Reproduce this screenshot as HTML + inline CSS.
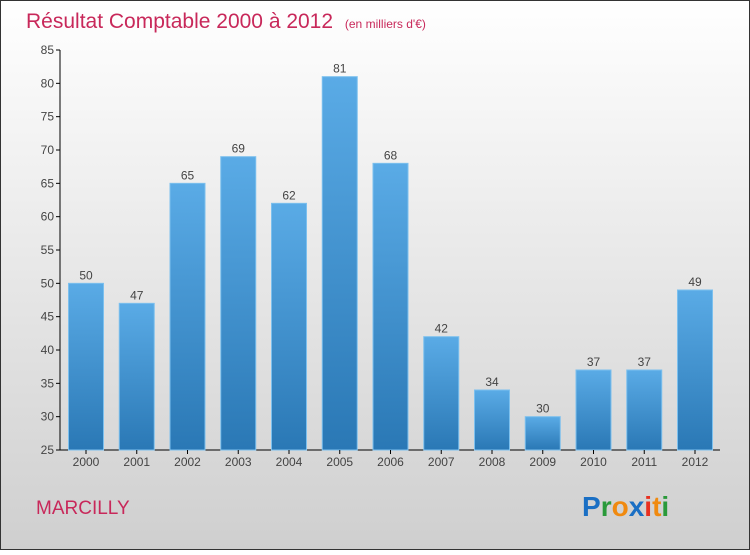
<!DOCTYPE html>
<html><head><meta charset="utf-8"><style>
body{margin:0;width:750px;height:550px;overflow:hidden;font-family:"Liberation Sans",sans-serif}
</style></head><body>
<svg id="c" width="750" height="550" xmlns="http://www.w3.org/2000/svg">
<defs>
<linearGradient id="bg" x1="0" y1="0" x2="0" y2="1"><stop offset="0" stop-color="#ffffff"/><stop offset="1" stop-color="#cfcfcf"/></linearGradient>
<linearGradient id="bar" x1="0" y1="0" x2="0" y2="1"><stop offset="0" stop-color="#5aabe6"/><stop offset="1" stop-color="#2a78b5"/></linearGradient>
</defs>
<rect x="0.5" y="0.5" width="749" height="549" fill="url(#bg)" stroke="#333"/>
<text x="26" y="28" font-size="21" fill="#c8285a">Résultat Comptable 2000 à 2012 <tspan font-size="12" dx="6">(en milliers d'€)</tspan></text>
<text x="36" y="514" font-size="19" fill="#c8285a">MARCILLY</text>
<g font-size="28" font-weight="bold" font-family="Liberation Sans,sans-serif">
<text x="582" y="516"><tspan fill="#1a6fc4">P</tspan><tspan fill="#2a9a3a">r</tspan><tspan fill="#f08a10">o</tspan><tspan fill="#1a6fc4">x</tspan><tspan fill="#e83020">i</tspan><tspan fill="#f08a10">t</tspan><tspan fill="#2a9a3a">i</tspan></text>
</g>
<g id="g"></g>
</svg>
<script>
const categories=["2000","2001","2002","2003","2004","2005","2006","2007","2008","2009","2010","2011","2012"];
const values=[50,47,65,69,62,81,68,42,34,30,37,37,49];
const yTicks=[25,30,35,40,45,50,55,60,65,70,75,80,85];
const NS="http://www.w3.org/2000/svg";
const g=document.getElementById('g');
const y=v=>450-(v-25)*400/60;
const x=i=>86+i*50.75;
function mk(t,a){const e=document.createElementNS(NS,t);for(const k in a)e.setAttribute(k,a[k]);g.appendChild(e);return e;}
let ax=mk('line',{x1:60,y1:50,x2:60,y2:450,stroke:'#000'});


let bx=mk('line',{x1:60,y1:450,x2:720,y2:450,stroke:'#000'});


yTicks.forEach(v=>{
 let t=mk('line',{x1:56,y1:y(v),x2:60,y2:y(v),stroke:'#000'});
 
 
 let l=mk('text',{x:54,y:y(v)+4,'text-anchor':'end','font-size':12,fill:'#444'});
 l.textContent=v;
 
 
});
categories.forEach((c,i)=>{
 let r=mk('rect',{x:x(i)-17.5,y:y(values[i]),width:35,height:450-y(values[i]),fill:'url(#bar)',stroke:'#7cc0ee','stroke-width':1});
 
 
 let v=mk('text',{x:x(i),y:y(values[i])-4,'text-anchor':'middle','font-size':12,fill:'#444'});
 v.textContent=values[i];
 
 
 let t=mk('line',{x1:x(i),y1:450,x2:x(i),y2:454,stroke:'#000'});
 
 
 let l=mk('text',{x:x(i),y:466,'text-anchor':'middle','font-size':12,fill:'#444'});
 l.textContent=c;
 
 
});
</script>
</body></html>
